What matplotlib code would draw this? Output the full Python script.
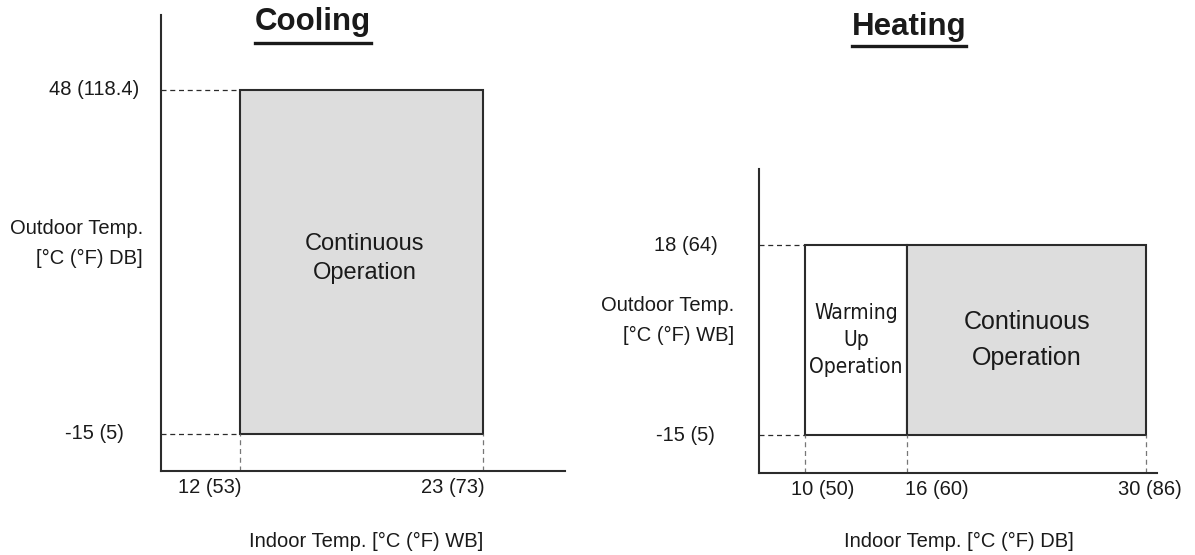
import matplotlib
matplotlib.use("Agg")
import matplotlib.pyplot as plt
from matplotlib.patches import Rectangle
from matplotlib.lines import Line2D

plt.rcParams['font.family'] = ['Liberation Sans', 'DejaVu Sans']

# cooling range (deg C with deg F in brackets)
cool_x = [12, 23]
cool_x_f = [53, 73]
cool_y = [-15, 48]
cool_y_f = [5, 118.4]

# heating range
heat_x = [10, 16, 30]
heat_x_f = [50, 60, 86]
heat_y = [-15, 18]
heat_y_f = [5, 64]

zone_names = ["Warming\nUp\nOperation", "Continuous\nOperation"]

W, H = 1195, 555
ink = "#2b2b2b"
txtc = "#1a1a1a"
fill = "#dddddd"

fig = plt.figure(figsize=(W / 100, H / 100), dpi=100)


def make_axes(left, right, top, bottom):
    ax = fig.add_axes([left / W, 1 - bottom / H, (right - left) / W, (bottom - top) / H])
    for s in ["top", "right"]:
        ax.spines[s].set_visible(False)
    for s in ["left", "bottom"]:
        ax.spines[s].set_color(ink)
        ax.spines[s].set_linewidth(1.5)
    ax.set_xticks([])
    ax.set_yticks([])
    return ax


def lab(c, f):
    return "%g (%g)" % (c, f)


def guides(ax, xs, ys):
    x0 = ax.get_xlim()[0]
    y0 = ax.get_ylim()[0]
    for y in ys:
        ax.plot([x0, xs[0]], [y, y], ls=(0, (4, 3)), color=ink, lw=0.9, clip_on=False)
    for x in xs:
        ax.plot([x, x], [y0, ys[0]], ls=(0, (4, 3)), color="#777777", lw=0.9, clip_on=False)


def tick_labels(ax, xs, xf, ys, yf, x_style, y_off):
    for (x, f), (ha, dx) in zip(zip(xs, xf), x_style):
        ax.annotate(lab(x, f), xy=(x, 0), xycoords=("data", "axes fraction"),
                    xytext=(dx, -12), textcoords="offset points",
                    ha=ha, va="center", fontsize=14.5, color=txtc)
    for (y, f), dx in zip(zip(ys, yf), y_off):
        ax.annotate(lab(y, f), xy=(0, y), xycoords=("axes fraction", "data"),
                    xytext=(dx, 0), textcoords="offset points",
                    ha="right", va="center", fontsize=14.5, color=txtc)


# ---- Cooling
ax1 = make_axes(161, 565, 15, 471)
ax1.set_xlim(8.43, 26.7)
ax1.set_ylim(-21.8, 61.7)
ax1.add_patch(Rectangle((cool_x[0], cool_y[0]), cool_x[1] - cool_x[0], cool_y[1] - cool_y[0],
                        facecolor=fill, edgecolor=ink, lw=1.5))
guides(ax1, cool_x, cool_y)
ax1.text((cool_x[0] + cool_x[1]) / 2 + 0.15, (cool_y[0] + cool_y[1]) / 2 + 0.6, zone_names[1],
         ha="center", va="center", fontsize=17, color=txtc, linespacing=1.39)
tick_labels(ax1, cool_x, cool_x_f, cool_y, cool_y_f,
            [("right", 1), ("right", 1)], [-27, -16])

# ---- Heating
ax2 = make_axes(759, 1157, 169, 473)
ax2.set_xlim(7.30, 30.65)
ax2.set_ylim(-21.6, 31.3)
ax2.add_patch(Rectangle((heat_x[0], heat_y[0]), heat_x[1] - heat_x[0], heat_y[1] - heat_y[0],
                        facecolor="white", edgecolor=ink, lw=1.5))
ax2.add_patch(Rectangle((heat_x[1], heat_y[0]), heat_x[2] - heat_x[1], heat_y[1] - heat_y[0],
                        facecolor=fill, edgecolor=ink, lw=1.5))
guides(ax2, heat_x, heat_y)
ax2.text((heat_x[0] + heat_x[1]) / 2, (heat_y[0] + heat_y[1]) / 2, zone_names[0],
         ha="center", va="center", fontsize=15, color=txtc, linespacing=1.45,
         family="DejaVu Sans", fontstretch="condensed")
ax2.text((heat_x[1] + heat_x[2]) / 2, (heat_y[0] + heat_y[1]) / 2, zone_names[1],
         ha="center", va="center", fontsize=18, color=txtc, linespacing=1.63)
tick_labels(ax2, heat_x, heat_x_f, heat_y, heat_y_f,
            [("left", -10), ("left", -2), ("center", 3)], [-32, -30])

# axis labels
fig.text(143 / W, 1 - 243.5 / H, "Outdoor Temp.\n[°C (°F) DB]", ha="right", va="center",
         multialignment="right", fontsize=14.5, linespacing=1.72, color=txtc)
fig.text(734 / W, 1 - 320.5 / H, "Outdoor Temp.\n[°C (°F) WB]", ha="right", va="center",
         multialignment="right", fontsize=14.5, linespacing=1.72, color=txtc)
fig.text(366 / W, 1 - 541 / H, "Indoor Temp. [°C (°F) WB]", ha="center", va="center",
         fontsize=14.5, color=txtc)
fig.text(959 / W, 1 - 541 / H, "Indoor Temp. [°C (°F) DB]", ha="center", va="center",
         fontsize=14.5, color=txtc)

# underlined titles: (text, centre x, baseline y, underline y) in pixels
title_specs = [("Cooling", 313, 30, 42.7), ("Heating", 909, 34.5, 45.7)]
titles = []
for name, cx, base, uy in title_specs:
    t = fig.text(cx / W, 1 - base / H, name, ha="center", va="baseline",
                 fontsize=22.5, fontweight="bold", color=txtc)
    titles.append((t, uy))
fig.canvas.draw()
r = fig.canvas.get_renderer()
for t, uy in titles:
    bb = t.get_window_extent(r)
    fig.add_artist(Line2D([bb.x0 / W, bb.x1 / W], [1 - uy / H, 1 - uy / H],
                          color=txtc, lw=2.4, transform=fig.transFigure))

fig.savefig("out.png", dpi=100)
